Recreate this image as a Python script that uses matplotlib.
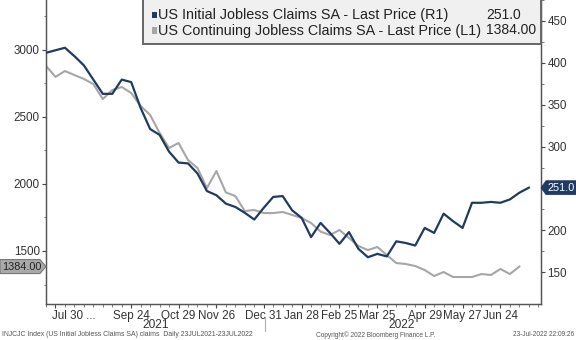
import matplotlib
matplotlib.use('Agg')
import matplotlib.pyplot as plt
from matplotlib.patches import Polygon, Rectangle
import matplotlib.transforms as mtransforms
import pandas as pd

# ---------------- data ----------------
dates_initial = pd.date_range('2021-07-23', periods=52, freq='7D')
initial_claims = [412, 415, 418, 408, 397, 380, 363, 363, 380, 377,
                  346, 321, 314, 294, 281, 280, 268, 247, 242, 232,
                  228, 221, 213, 227, 240, 241, 224, 215, 192, 209,
                  197, 184, 198, 178, 168, 172, 169, 187, 185, 182,
                  203, 197, 220, 211, 203, 233, 233, 234, 233, 237,
                  245, 251]
dates_continuing = dates_initial[:51]
continuing_claims = [2881, 2799, 2843, 2813, 2784, 2746, 2634, 2701, 2724, 2679,
                     2582, 2515, 2381, 2269, 2306, 2179, 2119, 1970, 2097, 1937,
                     1910, 1798, 1806, 1783, 1783, 1791, 1769, 1746, 1709, 1645,
                     1619, 1657, 1597, 1537, 1507, 1530, 1470, 1410, 1403, 1388,
                     1358, 1313, 1343, 1306, 1306, 1306, 1328, 1321, 1366, 1328,
                     1384]
tick_dates = ['2021-07-30', '2021-09-24', '2021-10-29', '2021-11-26', '2021-12-31',
              '2022-01-28', '2022-02-25', '2022-03-25', '2022-04-29', '2022-05-27',
              '2022-06-24']
tick_labels = ['Jul 30 ...', 'Sep 24', 'Oct 29', 'Nov 26', 'Dec 31', 'Jan 28',
               'Feb 25', 'Mar 25', 'Apr 29', 'May 27', 'Jun 24']
left_ticks = [1500, 2000, 2500, 3000]
right_ticks = [150, 200, 250, 300, 350, 400, 450]
right_tick_labels = ['150', '200', '', '300', '350', '400', '450']  # 250 hidden under the last-value tag
legend_labels = ['US Initial Jobless Claims SA - Last Price (R1)',
                 'US Continuing Jobless Claims SA - Last Price (L1)']
legend_values = ['251.0', '1384.00']
last_initial_label = '251.0'
last_continuing_label = '1384.00'

# ---------------- style ----------------
plt.rcParams['font.family'] = 'Liberation Sans'

BLUE = '#1f3b62'
GRAY = '#a6a6a6'
TXT = '#333333'
W, H = 576, 340

fig = plt.figure(figsize=(W / 100, H / 100), dpi=100)


def fx(x):
    return x / W


def fy(y):
    return 1 - y / H


ax = fig.add_axes([fx(46), fy(304), (541 - 46) / W, 304 / H])
ax2 = ax.twinx()

ax.plot(dates_continuing, continuing_claims, color=GRAY, lw=1.5, zorder=2)
ax2.plot(dates_initial, initial_claims, color=BLUE, lw=1.6, zorder=3)
ax.set_zorder(1)
ax2.set_zorder(2)
ax2.patch.set_visible(False)

ax.set_xlim(pd.Timestamp('2021-07-23'), pd.Timestamp('2022-07-24'))
ax.set_ylim(1104.5, 3373)
ax2.set_ylim(112.2, 471.3)

ax.set_yticks(left_ticks)
ax.set_yticks([v + 250 for v in left_ticks[:-1]] + [1250, 3250], minor=True)
ax2.set_yticks(right_ticks)
ax2.set_yticklabels(right_tick_labels)
ax2.set_yticks([v + 25 for v in right_ticks], minor=True)

ax.set_xticks(pd.to_datetime(tick_dates))
ax.set_xticklabels(tick_labels)
ax.set_xticks(pd.date_range('2021-07-23', '2022-07-22', freq='7D'), minor=True)

for a in (ax, ax2):
    a.tick_params(axis='both', which='major', labelsize=8.4, colors='#444444',
                  labelcolor=TXT, length=3, width=0.8, pad=1.5, direction='out')
    a.tick_params(axis='both', which='minor', length=1.8, width=0.6, colors='#666666',
                  direction='out')
    a.spines['top'].set_visible(False)
    for s in ('left', 'right', 'bottom'):
        a.spines[s].set_color('#555555')
        a.spines[s].set_linewidth(0.9)
ax.tick_params(axis='x', which='major', pad=1.5)
lbl0 = ax.get_xticklabels()[0]
lbl0.set_horizontalalignment('left')
lbl0.set_transform(lbl0.get_transform() + mtransforms.ScaledTranslation(-3 / 100, 0, fig.dpi_scale_trans))

# year labels and separator
ytrans = mtransforms.blended_transform_factory(ax.transData, fig.transFigure)
ax.text(pd.Timestamp('2021-10-12'), fy(325.5), '2021', transform=ytrans, ha='center', va='center',
        fontsize=8.6, color=TXT, clip_on=False)
ax.text(pd.Timestamp('2022-04-12'), fy(325.5), '2022', transform=ytrans, ha='center', va='center',
        fontsize=8.6, color=TXT, clip_on=False)
ax.plot([pd.Timestamp('2022-01-01')] * 2, [fy(317), fy(331)], transform=ytrans,
        color='#b0b0b0', lw=0.8, clip_on=False)

# footer
fig.text(fx(2), fy(335), 'INJCJC Index (US Initial Jobless Claims SA) claims  Daily 23JUL2021-23JUL2022',
         fontsize=4.95, color='#555555', ha='left', va='center')
fig.text(fx(376), fy(335), 'Copyright\u00a9 2022 Bloomberg Finance L.P.',
         fontsize=4.7, color='#555555', ha='center', va='center')
fig.text(fx(574), fy(335), '23-Jul-2022 22:09:26',
         fontsize=4.7, color='#555555', ha='right', va='center')

# legend box
leg = Rectangle((fx(143), fy(44)), fx(541) - fx(143), fy(-2) - fy(44), transform=fig.transFigure,
                facecolor='#f0f0f0', edgecolor='#666666', lw=1.4, zorder=10)
fig.patches.append(leg)
for i, (lab, val, col) in enumerate(zip(legend_labels, legend_values, [BLUE, GRAY])):
    yc = 15 + 15.5 * i
    fig.patches.append(Rectangle((fx(151.5), fy(yc + 3)), 5 / W, 6 / H, transform=fig.transFigure,
                                 facecolor=col, edgecolor='none', zorder=11))
    fig.text(fx(158), fy(yc), lab, fontsize=10.4, color='#222222', ha='left', va='center', zorder=12)
    fig.text(fx(486), fy(yc), val, fontsize=10.0, color='#222222', ha='left', va='center', zorder=12)

# last value tags
fig.canvas.draw()
_, yb = ax2.transData.transform((0, initial_claims[-1]))
yb_px = H - yb
pts = [(541, yb_px), (546, yb_px - 7), (576, yb_px - 7), (576, yb_px + 7), (546, yb_px + 7)]
fig.patches.append(Polygon([(fx(x), fy(y)) for x, y in pts], closed=True, transform=fig.transFigure,
                           facecolor=BLUE, edgecolor=BLUE, lw=0.5, zorder=10))
fig.text(fx(561.5), fy(yb_px), last_initial_label, fontsize=7.8, color='white', ha='center', va='center', zorder=12)

_, yg = ax.transData.transform((0, continuing_claims[-1]))
yg_px = H - yg
pts = [(0, yg_px - 7), (40, yg_px - 7), (46, yg_px), (40, yg_px + 7), (0, yg_px + 7)]
fig.patches.append(Polygon([(fx(x), fy(y)) for x, y in pts], closed=True, transform=fig.transFigure,
                           facecolor='#a9a9a9', edgecolor='#777777', lw=0.8, zorder=10))
fig.text(fx(21.5), fy(yg_px), last_continuing_label, fontsize=7.8, color='#222222', ha='center', va='center', zorder=12)

fig.savefig('out.png', dpi=100)
